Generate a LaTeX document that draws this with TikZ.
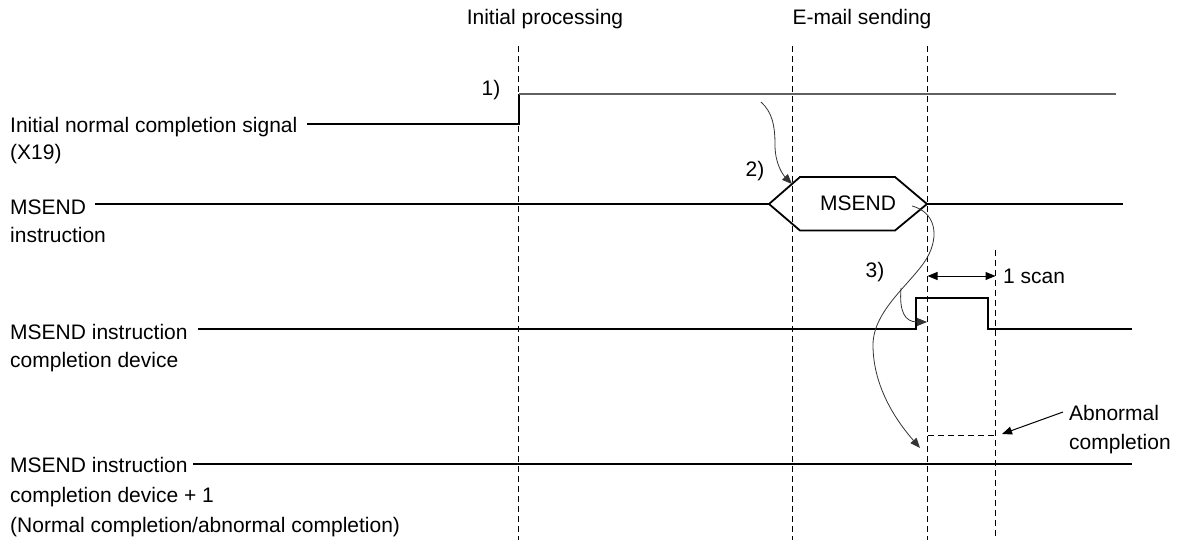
\documentclass[tikz,border=0pt]{standalone}
\usepackage{fontspec}
\setmainfont{Liberation Sans}
\usetikzlibrary{arrows.meta}
\begin{document}
\begin{tikzpicture}[x=1pt,y=-1pt,
  lab/.style={anchor=west, inner sep=0pt, font=\fontsize{21}{25}\selectfont, text height=15pt, text depth=4.5pt},
  sig/.style={line width=1.8pt, line join=miter},
  guide/.style={line width=1pt, dash pattern=on 6pt off 4pt},
  thinc/.style={line width=0.8pt, draw=black!80},
  tip/.style={-{Triangle[length=10pt,width=8pt]}},
  dtip/.style={{Triangle[length=10pt,width=8pt]}-{Triangle[length=10pt,width=8pt]}},
]
\useasboundingbox (0,0) rectangle (1181,540);

% top labels
\node[lab, anchor=center] (tInit) at (545,19) {Initial processing};
\node[lab, anchor=center] (tMail) at (862,19) {E-mail sending};

% guide lines
\draw[guide] (518.5,46) -- (518.5,540);
\draw[guide] (792,46) -- (792,540);
\draw[guide] (927.5,46) -- (927.5,540);
\draw[guide] (995.5,250) -- (995.5,540);

% left labels
\node[lab] (l1a) at (10,127) {Initial normal completion signal};
\node[lab] (l1b) at (10,154) {(X19)};
\node[lab] (l2a) at (10,209) {MSEND};
\node[lab] (l2b) at (10,237) {instruction};
\node[lab] (l3a) at (10,334) {MSEND instruction};
\node[lab] (l3b) at (10,362) {completion device};
\node[lab] (l4a) at (10,467) {MSEND instruction};
\node[lab] (l4b) at (10,497) {completion device + 1};
\node[lab] (l4c) at (10,527) {(Normal completion/abnormal completion)};

% signal 1
\draw[sig] (307,124) -- (519,124) -- (519,94);
\draw[sig, draw=black!62] (519,94) -- (1116,94);
\node[lab, anchor=center] (n1) at (491,90) {1)};

% MSEND instruction
\draw[sig] (95,204) -- (769,204);
\draw[sig] (769,204) -- (800,177) -- (895,177) -- (927,204) -- (895,230.5) -- (800,230.5) -- cycle;
\draw[sig] (927,204) -- (1123,204);
\node[lab, anchor=center] (hex) at (858,205) {MSEND};
\node[lab, anchor=center] (n2) at (755,171) {2)};

% completion device
\draw[sig] (198,329) -- (916,329) -- (916,298) -- (988,298) -- (988,329) -- (1132,329);

% completion device + 1
\draw[sig] (193,464) -- (1132,464);
\draw[guide] (927.5,435) -- (995.5,435);

% 1 scan
\draw[dtip, line width=1pt] (927.5,276) -- (995.5,276);
\node[lab] (scan) at (1003,278) {1 scan};
\node[lab, anchor=center] (n3) at (875,272) {3)};

% abnormal completion
\node[lab] (ab1) at (1069,415) {Abnormal};
\node[lab] (ab2) at (1069,444) {completion};
\draw[tip, line width=1pt] (1063,412) -- (1002,434);

% arrow 2
\draw[thinc, tip] (761,102) .. controls (772,112) and (775,125) .. (775,145) .. controls (775,165) and (784,176) .. (792,184);

% arrow 3
\draw[thinc, tip] (912,206) .. controls (935,212) and (940,235) .. (927,258)
  .. controls (912,283) and (873,310) .. (873,345)
  .. controls (873,390) and (900,425) .. (920,448);
\coordinate (br) at (901,288);
\draw[thinc, tip] (br) .. controls (899,312) and (905,322) .. (927,322);
\end{tikzpicture}
\end{document}
